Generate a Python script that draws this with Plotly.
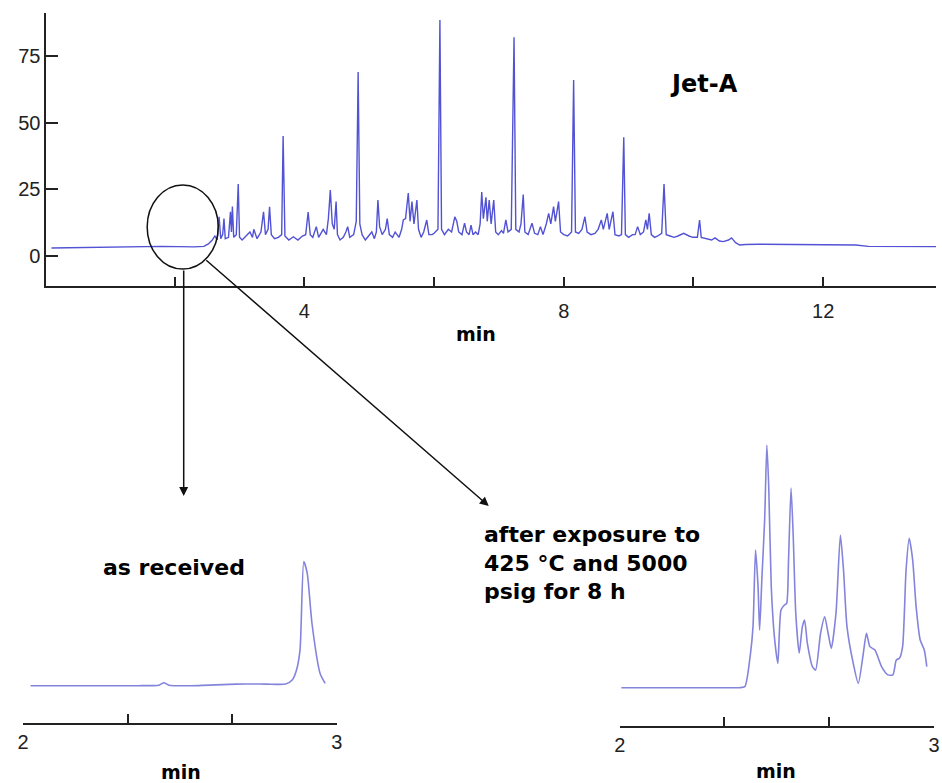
import plotly.graph_objects as go

# ---- Jet-A chromatogram (retention time in min, detector signal) ----
main_time = [
    0.10, 0.60, 1.20, 1.80, 2.30, 2.45, 2.52, 2.58, 2.62, 2.655, 2.685, 2.71,
    2.74, 2.76, 2.78, 2.83, 2.86, 2.875, 2.89, 2.91, 2.95, 2.98, 3.00, 3.04,
    3.10, 3.16, 3.20, 3.22, 3.27, 3.33, 3.37, 3.40, 3.44, 3.463, 3.49, 3.54,
    3.60, 3.65, 3.672, 3.70, 3.76, 3.83, 3.90, 3.97, 4.02, 4.058, 4.09, 4.13,
    4.184, 4.22, 4.29, 4.34, 4.37, 4.40, 4.43, 4.46, 4.489, 4.51, 4.55, 4.60,
    4.64, 4.668, 4.70, 4.76, 4.80, 4.829, 4.855, 4.89, 4.94, 4.99, 5.04, 5.08,
    5.11, 5.134, 5.16, 5.20, 5.25, 5.277, 5.31, 5.36, 5.40, 5.46, 5.50, 5.526,
    5.56, 5.602, 5.63, 5.659, 5.69, 5.735, 5.76, 5.80, 5.84, 5.887, 5.92, 5.97,
    6.00, 6.06, 6.09, 6.115, 6.16, 6.22, 6.27, 6.32, 6.35, 6.38, 6.43, 6.47,
    6.50, 6.54, 6.57, 6.60, 6.64, 6.68, 6.71, 6.735, 6.76, 6.80, 6.82, 6.85,
    6.88, 6.92, 6.95, 6.99, 7.04, 7.07, 7.107, 7.14, 7.19, 7.233, 7.26, 7.31,
    7.34, 7.375, 7.40, 7.45, 7.51, 7.55, 7.60, 7.64, 7.68, 7.73, 7.767, 7.80,
    7.843, 7.87, 7.92, 7.95, 8.00, 8.06, 8.12, 8.152, 8.18, 8.23, 8.28, 8.326,
    8.36, 8.42, 8.48, 8.53, 8.579, 8.61, 8.67, 8.70, 8.758, 8.79, 8.85, 8.89,
    8.925, 8.95, 9.00, 9.06, 9.10, 9.139, 9.18, 9.23, 9.265, 9.29, 9.317, 9.35,
    9.40, 9.45, 9.51, 9.546, 9.58, 9.64, 9.70, 9.76, 9.85, 9.93, 9.99, 10.06,
    10.094, 10.12, 10.20, 10.28, 10.332, 10.40, 10.46, 10.54, 10.587, 10.65,
    10.713, 10.80, 11.00, 11.40, 11.90, 12.50, 12.70, 13.40, 13.74,
]
main_signal = [
    3.0, 3.2, 3.6, 3.6, 3.4, 3.6, 4.5, 6.0, 7.5, 6.0, 14.7, 6.5,
    8.0, 14.0, 6.5, 7.0, 16.6, 9.0, 18.5, 7.0, 8.0, 27.0, 7.0, 6.0,
    7.5, 9.0, 7.0, 10.0, 6.5, 9.0, 16.6, 8.0, 10.0, 18.4, 8.0, 6.5,
    7.0, 8.0, 45.0, 7.5, 6.0, 7.2, 6.0, 7.5, 8.0, 16.5, 8.0, 7.0,
    11.0, 7.0, 10.0, 8.0, 14.0, 24.7, 12.0, 10.0, 20.4, 8.0, 6.0, 7.0,
    9.0, 11.0, 7.0, 8.0, 13.0, 69.0, 12.0, 8.0, 6.0, 7.5, 9.0, 6.5,
    9.0, 21.0, 11.0, 8.0, 10.0, 14.0, 8.0, 7.0, 9.0, 7.0, 10.0, 13.5,
    14.0, 23.6, 13.0, 20.4, 12.0, 21.0, 10.0, 7.0, 9.0, 13.5, 8.0, 8.0,
    8.5, 10.0, 88.5, 10.0, 8.0, 10.0, 9.0, 14.7, 13.0, 9.0, 8.0, 12.3,
    9.0, 8.0, 11.6, 8.0, 9.0, 8.0, 12.0, 24.0, 14.0, 22.0, 13.0, 21.0,
    12.0, 21.0, 9.0, 8.0, 9.5, 8.5, 13.5, 9.0, 10.0, 82.0, 10.0, 9.0,
    12.0, 23.0, 9.0, 8.0, 12.3, 8.5, 8.0, 11.0, 8.0, 12.0, 16.0, 12.0,
    18.5, 13.0, 20.4, 9.0, 8.0, 7.5, 9.0, 66.0, 9.0, 8.5, 10.0, 14.7,
    9.0, 8.0, 8.5, 10.0, 13.5, 10.0, 16.0, 10.0, 16.6, 8.0, 7.5, 8.0,
    44.5, 8.0, 7.0, 8.0, 8.0, 11.0, 8.0, 9.0, 13.5, 10.0, 16.0, 8.0,
    7.0, 7.5, 8.5, 27.0, 8.0, 7.5, 7.0, 7.5, 8.5, 7.5, 7.0, 7.0,
    13.5, 7.0, 6.6, 6.0, 6.8, 5.6, 5.4, 6.0, 6.8, 5.0,
    4.1, 4.3, 4.4, 4.3, 4.3, 4.1, 3.6, 3.5, 3.5,
]

# ---- 2-3 min window, fuel as received ----
fresh_time = [2.024, 2.200, 2.365, 2.433, 2.449, 2.465, 2.533, 2.680, 2.774,
              2.837, 2.858, 2.872, 2.883, 2.895, 2.906, 2.921, 2.947, 2.963]
fresh_signal = [0.0, 0.0, 0.0, 0.2, 1.1, 0.2, 0.0, 0.6, 0.6,
                0.6, 2.1, 6.0, 13.4, 46.5, 42.1, 23.4, 4.6, 0.9]

# ---- 2-3 min window, after 425 C / 5000 psig for 8 h ----
stressed_time = [
    2.005, 2.150, 2.300, 2.380, 2.398, 2.416, 2.424, 2.432, 2.440, 2.445,
    2.452, 2.461, 2.468, 2.474, 2.482, 2.492, 2.503, 2.513, 2.524, 2.531,
    2.537, 2.545, 2.552, 2.560, 2.571, 2.581, 2.588, 2.597, 2.613, 2.623,
    2.639, 2.652, 2.663, 2.673, 2.688, 2.702, 2.712, 2.723, 2.743, 2.759,
    2.775, 2.785, 2.796, 2.812, 2.833, 2.853, 2.869, 2.880, 2.890, 2.900,
    2.911, 2.921, 2.932, 2.943, 2.956, 2.969, 2.977,
]
stressed_signal = [
    0.0, 0.0, 0.0, 0.0, 0.4, 12.9, 22.9, 51.6, 37.9, 21.6,
    40.4, 62.9, 91.0, 75.4, 37.9, 19.1, 9.1, 29.1, 31.0, 31.6,
    47.9, 74.8, 56.6, 27.9, 12.9, 22.9, 25.4, 16.6, 7.9, 6.6,
    20.4, 26.6, 20.4, 14.7, 27.9, 57.2, 44.1, 22.9, 9.1, 1.6,
    12.9, 20.4, 15.4, 14.1, 7.9, 4.8, 4.8, 10.4, 11.0, 15.4,
    44.1, 56.0, 47.9, 30.4, 17.9, 14.1, 7.9,
]

main_ticks = [2, 4, 6, 8, 10, 12]
main_ticktext = ["", "4", "", "8", "", "12"]
signal_ticks = [0, 25, 50, 75]
window_ticks = [2, 2.333, 2.667, 3]
window_ticktext = ["2", "", "", "3"]

W, H = 942, 783
AXIS = "#222222"
TICKFONT = dict(family="Liberation Sans, Arial, sans-serif", size=20, color=AXIS)
BOLD = "DejaVu Sans, Verdana, sans-serif"

fig = go.Figure()
fig.add_trace(go.Scatter(x=main_time, y=main_signal, mode="lines",
                         line=dict(color="#5252d4", width=1.4),
                         xaxis="x", yaxis="y", showlegend=False))
fig.add_trace(go.Scatter(x=fresh_time, y=fresh_signal, mode="lines",
                         line=dict(color="#8484dc", width=1.6, shape="spline",
                                   smoothing=0.6),
                         xaxis="x2", yaxis="y2", showlegend=False))
fig.add_trace(go.Scatter(x=stressed_time, y=stressed_signal, mode="lines",
                         line=dict(color="#8484dc", width=1.6, shape="spline",
                                   smoothing=0.6),
                         xaxis="x3", yaxis="y3", showlegend=False))


def xpaper(px):
    return px / W


def ypaper(py):
    return 1 - py / H


common_x = dict(showline=True, linecolor=AXIS, linewidth=2, ticks="inside",
                tickwidth=2, tickcolor=AXIS, showgrid=False, zeroline=False,
                tickfont=TICKFONT, tickmode="array")

fig.update_layout(
    width=W, height=H,
    margin=dict(l=0, r=0, t=0, b=0),
    paper_bgcolor="white", plot_bgcolor="rgba(0,0,0,0)",
    xaxis=dict(common_x, domain=[xpaper(41), 1], range=[0.023, 13.74],
               tickvals=main_ticks, ticktext=main_ticktext, ticklen=9,
               ticklabelstandoff=6, anchor="y"),
    yaxis=dict(showline=True, linecolor=AXIS, linewidth=2, ticks="inside",
               ticklen=12, tickwidth=2, tickcolor=AXIS, showgrid=False,
               zeroline=False, tickfont=TICKFONT, tickmode="array",
               tickvals=signal_ticks, domain=[ypaper(286), ypaper(13)],
               range=[-11.25, 91.1], anchor="x"),
    xaxis2=dict(common_x, domain=[xpaper(17.3), xpaper(335)], range=[2, 3],
                tickvals=window_ticks, ticktext=window_ticktext, ticklen=9,
                ticklabelstandoff=0, anchor="y2"),
    yaxis2=dict(visible=False, domain=[ypaper(722.7), ypaper(540)],
                range=[-13.87, 54.6], anchor="x2"),
    xaxis3=dict(common_x, domain=[xpaper(621.7), xpaper(940)], range=[2, 3],
                tickvals=window_ticks, ticktext=window_ticktext, ticklen=9,
                ticklabelstandoff=0, anchor="y3"),
    yaxis3=dict(visible=False, domain=[ypaper(726), ypaper(430)],
                range=[-14.36, 96.6], anchor="x3"),
)

# magnifier circle around the early part of the chromatogram
fig.add_shape(type="circle", xref="paper", yref="paper",
              x0=xpaper(143), x1=xpaper(215), y0=ypaper(269), y1=ypaper(185),
              line=dict(color="#111111", width=1.5), layer="above")


def label(text, px, py, size, xanchor="center", yanchor="middle", align="center"):
    fig.add_annotation(text=text, xref="paper", yref="paper",
                       x=xpaper(px), y=ypaper(py), showarrow=False,
                       xanchor=xanchor, yanchor=yanchor, align=align,
                       font=dict(family=BOLD, size=size, color="black", weight="bold"))


def arrow(head, tail):
    fig.add_annotation(text="", xref="paper", yref="paper",
                       x=xpaper(head[0]), y=ypaper(head[1]),
                       ax=tail[0] - head[0], ay=tail[1] - head[1],
                       axref="pixel", ayref="pixel", showarrow=True,
                       arrowhead=2, arrowsize=1.2, arrowwidth=1.5,
                       arrowcolor="#111111")


arrow((180, 496), (180, 269))
arrow((489, 506), (205, 259))

label("Jet-A", 707, 84, 24)
label("min", 476, 334, 19)
label("as received", 170, 567, 22)
label("after exposure to<br>425 °C and 5000<br>psig for 8 h", 482, 520, 22,
      xanchor="left", yanchor="top", align="left")
label("min", 177, 772, 19)
label("min", 780, 771, 19)

fig.write_html("out.html")
